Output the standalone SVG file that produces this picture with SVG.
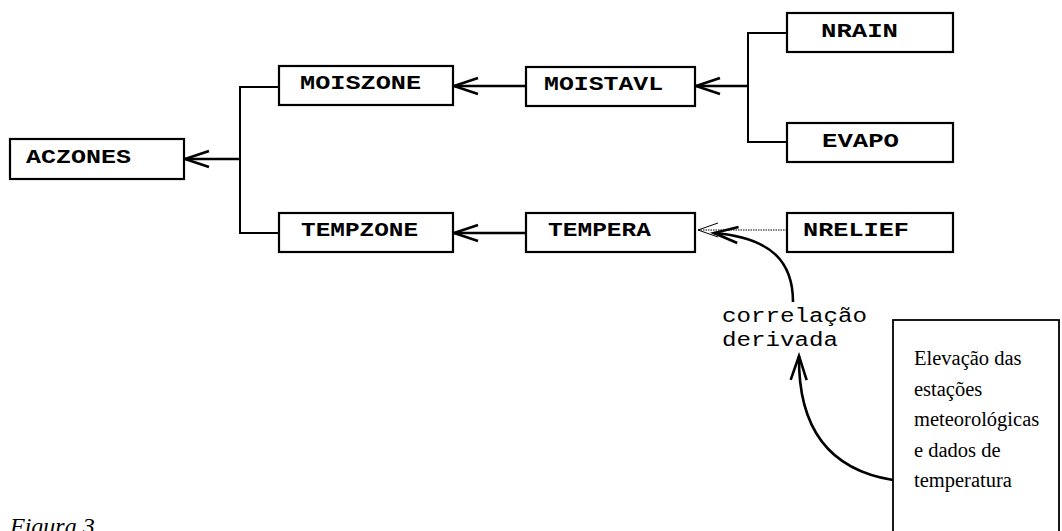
<svg xmlns="http://www.w3.org/2000/svg" width="1062" height="531" viewBox="0 0 1062 531">
<style>
.box{fill:#fff;stroke:#000;stroke-width:2.2}
.lbl{font-family:"Liberation Mono","Courier New",monospace;font-weight:bold;font-size:20px;fill:#000}
.ln{fill:none;stroke:#000;stroke-width:2}
.ar{fill:none;stroke:#000;stroke-width:2.6}
.ann{font-family:"Liberation Mono","Courier New",monospace;font-size:20px;fill:#000}
.note{font-family:"Liberation Serif","Times New Roman",serif;font-size:20.5px;fill:#000}
</style>
<defs>
<marker id="open" markerUnits="userSpaceOnUse" markerWidth="30" markerHeight="22" viewBox="-2 -2 30 22" refX="24" refY="9" orient="auto">
<path d="M0,1 L24,9 L0,17" fill="none" stroke="#000" stroke-width="2.6"/>
</marker>
<marker id="thin" markerUnits="userSpaceOnUse" markerWidth="24" markerHeight="20" viewBox="-2 -2 24 20" refX="20" refY="8" orient="auto">
<path d="M0,1 L20,8 L0,15" fill="none" stroke="#000" stroke-width="1"/>
</marker>
</defs>
<g id="connectors">
<line class="ar" x1="240" y1="159" x2="185" y2="159" marker-end="url(#open)"/>
<polyline class="ln" points="279,87 240,87 240,233 279,233"/>
<line class="ar" x1="526" y1="86" x2="454" y2="86" marker-end="url(#open)"/>
<polyline class="ln" points="787,33 748,33 748,142 787,142"/>
<line class="ar" x1="748" y1="86" x2="696" y2="86" marker-end="url(#open)"/>
<line class="ar" x1="526" y1="233" x2="454" y2="233" marker-end="url(#open)"/>
<line x1="787" y1="230" x2="698" y2="230" stroke="#000" stroke-width="1" stroke-dasharray="1.5,1" marker-end="url(#thin)"/>
<path class="ar" d="M793,302 C793,262 772,238 714,233" marker-end="url(#open)"/>
<path class="ar" d="M893,480 C830,470 798,430 799,356" marker-end="url(#open)"/>
</g>
<g id="ACZONES"><rect class="box" x="10" y="139" width="174" height="40"/><text class="lbl" x="26" y="163" textLength="105" lengthAdjust="spacingAndGlyphs">ACZONES</text></g>
<g id="MOISZONE"><rect class="box" x="279" y="66" width="174" height="39"/><text class="lbl" x="300" y="89" textLength="121" lengthAdjust="spacingAndGlyphs">MOISZONE</text></g>
<g id="MOISTAVL"><rect class="box" x="526" y="67" width="169" height="39"/><text class="lbl" x="544" y="90" textLength="119" lengthAdjust="spacingAndGlyphs">MOISTAVL</text></g>
<g id="NRAIN"><rect class="box" x="787" y="13" width="166" height="39"/><text class="lbl" x="821" y="37" textLength="77" lengthAdjust="spacingAndGlyphs">NRAIN</text></g>
<g id="EVAPO"><rect class="box" x="787" y="123" width="166" height="39"/><text class="lbl" x="822" y="147" textLength="77" lengthAdjust="spacingAndGlyphs">EVAPO</text></g>
<g id="TEMPZONE"><rect class="box" x="279" y="213" width="174" height="39"/><text class="lbl" x="301" y="236" textLength="117" lengthAdjust="spacingAndGlyphs">TEMPZONE</text></g>
<g id="TEMPERA"><rect class="box" x="526" y="213" width="169" height="39"/><text class="lbl" x="548" y="236" textLength="103" lengthAdjust="spacingAndGlyphs">TEMPERA</text></g>
<g id="NRELIEF"><rect class="box" x="787" y="213" width="166" height="39"/><text class="lbl" x="803" y="236" textLength="106" lengthAdjust="spacingAndGlyphs">NRELIEF</text></g>
<g id="annotation">
<text class="ann" x="722" y="322" textLength="145" lengthAdjust="spacingAndGlyphs">correlação</text>
<text class="ann" x="722" y="346" textLength="116" lengthAdjust="spacingAndGlyphs">derivada</text>
</g>
<g id="data-box">
<rect x="893" y="320" width="166" height="230" fill="#fff" stroke="#000" stroke-width="1.8"/>
<text class="note" x="914" y="365">Elevação das</text>
<text class="note" x="914" y="396">estações</text>
<text class="note" x="914" y="426">meteorológicas</text>
<text class="note" x="914" y="457">e dados de</text>
<text class="note" x="914" y="487">temperatura</text>
</g>
<text x="10" y="534" font-family="Liberation Serif, 'Times New Roman', serif" font-style="italic" font-size="24" fill="#000">Figura 3</text>
</svg>
